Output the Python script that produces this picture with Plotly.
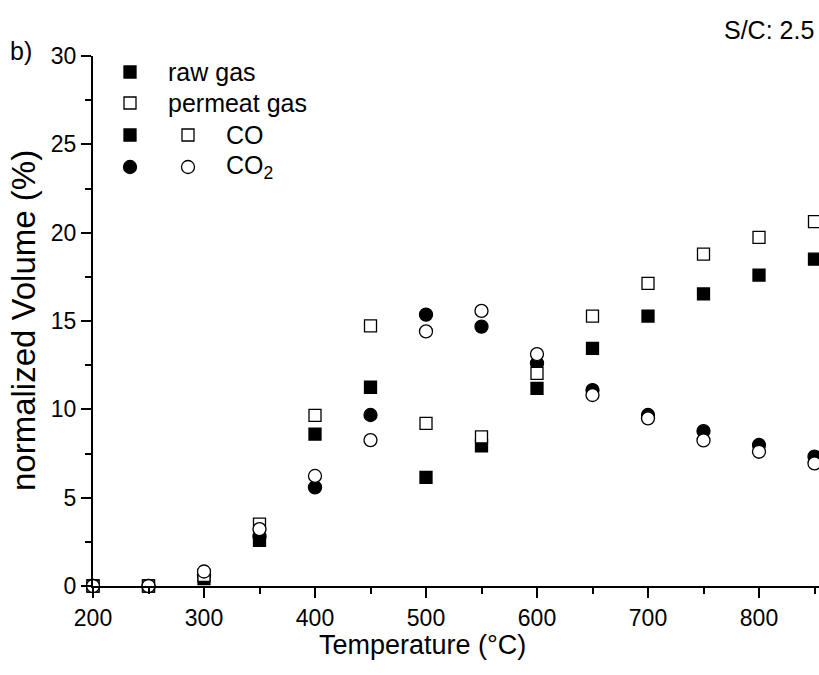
import plotly.graph_objects as go

temperature = [200, 250, 300, 350, 400, 450, 500, 550, 600, 650, 700, 750, 800, 850]
co_raw = [0, 0, 0.42, 2.58, 8.6, 11.25, 6.15, 7.94, 11.19, 13.45, 15.28, 16.53, 17.6, 18.5]
co_permeat = [0, 0, 0.6, 3.5, 9.66, 14.72, 9.2, 8.44, 12.04, 15.28, 17.13, 18.79, 19.73, 20.62]
co2_raw = [0, 0, 0.6, 2.8, 5.58, 9.68, 15.36, 14.68, 12.6, 11.09, 9.68, 8.77, 7.98, 7.32]
co2_permeat = [0, 0, 0.82, 3.22, 6.23, 8.26, 14.41, 15.57, 13.13, 10.81, 9.49, 8.24, 7.6, 6.94]

x_ticks = [200, 300, 400, 500, 600, 700, 800]
y_ticks = [0, 5, 10, 15, 20, 25, 30]

FONT = "Arial, Liberation Sans, sans-serif"

# plot area in pixels
L, R, T, B = 93, 819, 56, 586
W, H = 819, 675

def px(x):
    return (x - L) / (R - L)

def py(y):
    return (B - y) / (B - T)

fig = go.Figure()

def add(y, symbol, fill, size):
    fig.add_trace(go.Scatter(
        x=temperature, y=y, mode="markers", cliponaxis=False, showlegend=False,
        marker=dict(symbol=symbol, size=size, color=fill, opacity=1,
                    line=dict(color="black", width=1.3)),
    ))

add(co_raw, "square", "black", 12)
add(co2_raw, "circle", "black", 13)
add(co_permeat, "square", "white", 12)
add(co2_permeat, "circle", "white", 13)

# custom legend markers on an overlay axis in pixel coordinates
legend_items = [
    ([130, 130], [72, 135], "square", "black", 12),
    ([130, 188], [103, 135], "square", "white", 12),
    ([130], [167], "circle", "black", 13),
    ([188], [167], "circle", "white", 13),
]
for lx, ly, sym, fill, size in legend_items:
    fig.add_trace(go.Scatter(
        x=lx, y=ly, mode="markers", xaxis="x2", yaxis="y2",
        showlegend=False, cliponaxis=False,
        marker=dict(symbol=sym, size=size, color=fill, opacity=1,
                    line=dict(color="black", width=1.3)),
    ))

legend_text = ["raw gas", "permeat gas", "CO", "CO<sub>2</sub>"]
legend_tx = [166, 166, 224, 224]
legend_ty = [72, 103, 135, 167]
for t, tx, ty in zip(legend_text, legend_tx, legend_ty):
    fig.add_annotation(x=px(tx), y=py(ty), xref="paper", yref="paper", text=t,
                       showarrow=False, xanchor="left", yanchor="middle",
                       font=dict(family=FONT, size=25, color="black"))

fig.add_annotation(x=px(8), y=py(51), xref="paper", yref="paper", text="b)",
                   showarrow=False, xanchor="left", yanchor="middle",
                   font=dict(family=FONT, size=25, color="black"))
fig.add_annotation(x=px(816), y=py(30), xref="paper", yref="paper", text="S/C: 2.5",
                   showarrow=False, xanchor="right", yanchor="middle",
                   font=dict(family=FONT, size=25, color="black"))
fig.add_annotation(x=px(422), y=py(645), xref="paper", yref="paper",
                   text="Temperature (°C)", showarrow=False,
                   xanchor="center", yanchor="middle",
                   font=dict(family=FONT, size=27, color="black"))
fig.add_annotation(x=px(23), y=py(321), xref="paper", yref="paper",
                   text="normalized Volume (%)", showarrow=False, textangle=-90,
                   xanchor="center", yanchor="middle",
                   font=dict(family=FONT, size=33, color="black"))

x_range = [200, 200 + (R - L) / 1.11]

fig.update_layout(
    width=W, height=H,
    margin=dict(l=L, r=W - R, t=T, b=H - B, pad=0),
    paper_bgcolor="white", plot_bgcolor="white",
    font=dict(family=FONT, size=23, color="black"),
    xaxis=dict(range=x_range, tickvals=x_ticks, ticks="outside", ticklen=10,
               tickwidth=2, tickcolor="black", showline=True, linewidth=2,
               linecolor="black", showgrid=False, zeroline=False,
               tickfont=dict(size=23),
               minor=dict(dtick=50, tick0=0, ticks="outside", ticklen=6,
                          tickwidth=2, tickcolor="black", showgrid=False)),
    yaxis=dict(range=[0, 30], tickvals=y_ticks, ticks="outside", ticklen=10,
               tickwidth=2, tickcolor="black", showline=True, linewidth=2,
               linecolor="black", showgrid=False, zeroline=False,
               tickfont=dict(size=23),
               minor=dict(dtick=2.5, tick0=0, ticks="outside", ticklen=6,
                          tickwidth=2, tickcolor="black", showgrid=False)),
    xaxis2=dict(range=[L, R], overlaying="x", visible=False, fixedrange=True),
    yaxis2=dict(range=[B, T], overlaying="y", visible=False, fixedrange=True),
)

fig.write_html("out.html")
